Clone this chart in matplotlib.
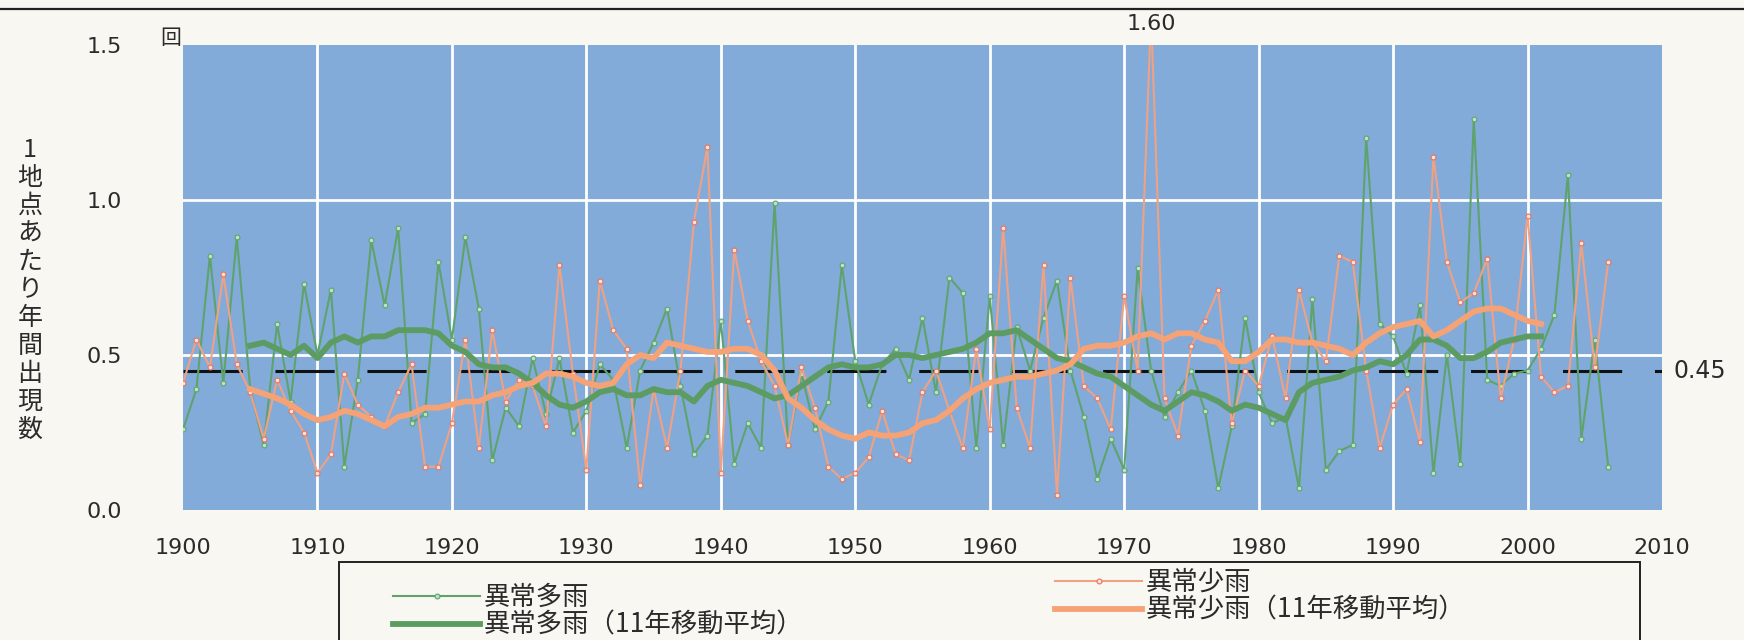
#!/usr/bin/env python3
# -*- coding: utf-8 -*-
"""
Annual occurrence of extreme heavy / light precipitation per station,
1900-2006, with 11-year running means and the 0.45 reference level.
Writes out.png (1744 x 640).
"""

import numpy as np
import matplotlib
matplotlib.use("Agg")
import matplotlib.pyplot as plt
from matplotlib.lines import Line2D
from matplotlib.patches import Rectangle

# ---------------------------------------------------------------------
# data
years = np.arange(1900, 2007)

heavy = [  # 異常多雨
    0.26, 0.39, 0.82, 0.41, 0.88, 0.39, 0.21, 0.60, 0.35, 0.73,
    0.50, 0.71, 0.14, 0.42, 0.87, 0.66, 0.91, 0.28, 0.31, 0.80,
    0.55, 0.88, 0.65, 0.16, 0.33, 0.27, 0.49, 0.31, 0.49, 0.25,
    0.32, 0.47, 0.42, 0.20, 0.45, 0.54, 0.65, 0.40, 0.18, 0.24,
    0.61, 0.15, 0.28, 0.20, 0.99, 0.21, 0.44, 0.26, 0.35, 0.79,
    0.48, 0.34, 0.47, 0.52, 0.42, 0.62, 0.38, 0.75, 0.70, 0.20,
    0.69, 0.21, 0.59, 0.45, 0.62, 0.74, 0.45, 0.30, 0.10, 0.23,
    0.13, 0.78, 0.45, 0.30, 0.38, 0.45, 0.32, 0.07, 0.27, 0.62,
    0.38, 0.28, 0.30, 0.07, 0.68, 0.13, 0.19, 0.21, 1.20, 0.60,
    0.56, 0.44, 0.66, 0.12, 0.50, 0.15, 1.26, 0.42, 0.40, 0.44,
    0.45, 0.52, 0.63, 1.08, 0.23, 0.55, 0.14,
]

light = [  # 異常少雨
    0.41, 0.55, 0.46, 0.76, 0.47, 0.38, 0.23, 0.42, 0.32, 0.25,
    0.12, 0.18, 0.44, 0.34, 0.30, 0.27, 0.38, 0.47, 0.14, 0.14,
    0.28, 0.55, 0.20, 0.58, 0.35, 0.42, 0.40, 0.27, 0.79, 0.44,
    0.13, 0.74, 0.58, 0.52, 0.08, 0.39, 0.20, 0.45, 0.93, 1.17,
    0.12, 0.84, 0.61, 0.48, 0.40, 0.21, 0.46, 0.33, 0.14, 0.10,
    0.12, 0.17, 0.32, 0.18, 0.16, 0.38, 0.45, 0.32, 0.20, 0.52,
    0.26, 0.91, 0.33, 0.20, 0.79, 0.05, 0.75, 0.40, 0.36, 0.26,
    0.69, 0.45, 1.60, 0.36, 0.24, 0.53, 0.61, 0.71, 0.28, 0.45,
    0.40, 0.56, 0.36, 0.71, 0.54, 0.48, 0.82, 0.80, 0.45, 0.20,
    0.34, 0.39, 0.22, 1.14, 0.80, 0.67, 0.70, 0.81, 0.36, 0.55,
    0.95, 0.43, 0.38, 0.40, 0.86, 0.46, 0.80,
]

ma_years = np.arange(1905, 2002)

heavy_ma = [  # 異常多雨(11年移動平均)
    0.53, 0.54, 0.52, 0.50, 0.53, 0.49, 0.54, 0.56, 0.54, 0.56,
    0.56, 0.58, 0.58, 0.58, 0.57, 0.53, 0.51, 0.47, 0.46, 0.46,
    0.44, 0.41, 0.37, 0.34, 0.33, 0.35, 0.38, 0.39, 0.37, 0.37,
    0.39, 0.38, 0.38, 0.35, 0.40, 0.42, 0.41, 0.40, 0.38, 0.36,
    0.37, 0.40, 0.43, 0.46, 0.47, 0.46, 0.46, 0.47, 0.50, 0.50,
    0.49, 0.50, 0.51, 0.52, 0.54, 0.57, 0.57, 0.58, 0.55, 0.52,
    0.49, 0.48, 0.46, 0.44, 0.43, 0.40, 0.37, 0.34, 0.32, 0.35,
    0.38, 0.37, 0.35, 0.32, 0.34, 0.33, 0.31, 0.29, 0.38, 0.41,
    0.42, 0.43, 0.45, 0.46, 0.48, 0.47, 0.50, 0.55, 0.55, 0.53,
    0.49, 0.49, 0.51, 0.54, 0.55, 0.56, 0.56,
]

light_ma = [  # 異常少雨(11年移動平均)
    0.39, 0.375, 0.36, 0.34, 0.31, 0.29, 0.30, 0.32, 0.31, 0.29,
    0.27, 0.30, 0.31, 0.33, 0.33, 0.34, 0.35, 0.35, 0.37, 0.38,
    0.40, 0.41, 0.44, 0.44, 0.43, 0.41, 0.40, 0.41, 0.47, 0.50,
    0.49, 0.54, 0.53, 0.52, 0.51, 0.51, 0.52, 0.52, 0.50, 0.45,
    0.36, 0.33, 0.29, 0.26, 0.24, 0.23, 0.25, 0.24, 0.24, 0.25,
    0.28, 0.29, 0.32, 0.36, 0.39, 0.41, 0.42, 0.43, 0.43, 0.44,
    0.45, 0.47, 0.52, 0.53, 0.53, 0.54, 0.56, 0.57, 0.55, 0.57,
    0.57, 0.55, 0.54, 0.48, 0.48, 0.51, 0.55, 0.55, 0.54, 0.54,
    0.53, 0.52, 0.50, 0.54, 0.57, 0.59, 0.60, 0.61, 0.56, 0.58,
    0.61, 0.64, 0.65, 0.65, 0.63, 0.61, 0.60,
]

REF_LEVEL = 0.45
X_TICKS = list(range(1900, 2011, 10))
Y_TICKS = [0.0, 0.5, 1.0, 1.5]
Y_LIM = (0.0, 1.5)
X_LIM = (1900, 2010)

LBL_HEAVY = "異常多雨"
LBL_LIGHT = "異常少雨"
LBL_HEAVY_MA = "異常多雨（11年移動平均）"
LBL_LIGHT_MA = "異常少雨（11年移動平均）"
Y_LABEL = "1地点あたり年間出現数"
UNIT = "回"

# ---------------------------------------------------------------------
# style
W_PX, H_PX, DPI = 1744, 640, 100
PAPER = "#f8f7f2"
PLOT_BG = "#82abd9"
GREEN = "#5fa36c"
GREEN_MA = "#5c9c62"
ORANGE = "#f0a184"
ORANGE_EDGE = "#e8735e"
ORANGE_MA = "#f5a277"
TXT = "#2b2b2b"
JP = ["Noto Sans CJK JP", "DejaVu Sans"]

plt.rcParams["font.family"] = ["DejaVu Sans", "Noto Sans CJK JP"]

fig = plt.figure(figsize=(W_PX / DPI, H_PX / DPI), dpi=DPI, facecolor=PAPER)

ax_l, ax_r, ax_t, ax_b = 183, 1662, 45, 510          # pixel box of the plot
ax = fig.add_axes([ax_l / W_PX, 1 - ax_b / H_PX,
                   (ax_r - ax_l) / W_PX, (ax_b - ax_t) / H_PX])
ax.set_facecolor(PLOT_BG)
ax.set_xlim(*X_LIM)
ax.set_ylim(*Y_LIM)
for s in ax.spines.values():
    s.set_visible(False)

# white grid
ax.set_xticks(X_TICKS)
ax.set_yticks(Y_TICKS)
for x in X_TICKS[1:-1]:
    ax.axvline(x, color="white", lw=2.0, zorder=1)
for y in Y_TICKS[1:-1]:
    ax.axhline(y, color="white", lw=2.0, zorder=1)

ax.tick_params(axis="both", length=0, labelsize=16, labelcolor=TXT)
ax.tick_params(axis="x", pad=20)
ax.tick_params(axis="y", pad=44)
ax.set_yticklabels([f"{v:.1f}" for v in Y_TICKS])

# dashed reference level (dash lengths given in years)
px_per_year = (ax_r - ax_l) / (X_LIM[1] - X_LIM[0])
ref_lw = 2.2
on_pt = 4.4 * px_per_year * 72 / DPI / ref_lw
off_pt = 2.44 * px_per_year * 72 / DPI / ref_lw
ax.axhline(REF_LEVEL, color="#111111", lw=ref_lw,
           linestyle=(0, (on_pt, off_pt)), zorder=2)
ax.text(1.008, REF_LEVEL, f"{REF_LEVEL:.2f}", transform=ax.get_yaxis_transform(),
        ha="left", va="center", fontsize=17, color=TXT)

# series
l_heavy, = ax.plot(years, heavy, color=GREEN, lw=1.5, marker="o", ms=3.5,
                   mfc="#bfe0c4", mec=GREEN, mew=0.8, zorder=3, label=LBL_HEAVY)
l_light, = ax.plot(years, light, color=ORANGE, lw=1.5, marker="o", ms=3.5,
                   mfc="#fde3d6", mec=ORANGE_EDGE, mew=0.8, zorder=3,
                   label=LBL_LIGHT)
l_heavy_ma, = ax.plot(ma_years, heavy_ma, color=GREEN_MA, lw=4.2,
                      solid_joinstyle="round", zorder=4, label=LBL_HEAVY_MA)
l_light_ma, = ax.plot(ma_years, light_ma, color=ORANGE_MA, lw=4.2,
                      solid_joinstyle="round", zorder=4, label=LBL_LIGHT_MA)

# value of the clipped spike
peak_i = int(np.argmax(light))
ax.text(years[peak_i], 1.045, f"{light[peak_i]:.2f}",
        transform=ax.get_xaxis_transform(), ha="center", va="center",
        fontsize=16, color=TXT)

# unit and vertical axis title
fig.text(171 / W_PX, 1 - 38 / H_PX, UNIT, family=JP, fontsize=15,
         ha="center", va="center", color=TXT)
fig.text(30 / W_PX, 1 - 290 / H_PX, "\n".join(Y_LABEL), family=JP,
         fontsize=18, linespacing=1.1, ha="center", va="center", color=TXT)

# rule across the top of the page
fig.add_artist(Line2D([0, 1], [1 - 9 / H_PX, 1 - 9 / H_PX],
                      transform=fig.transFigure, color="#222222", lw=1.6))

# legend: one framed box, two columns
fig.add_artist(Rectangle((339 / W_PX, -0.01), (1640 - 339) / W_PX,
                         1.01 - 562 / H_PX, transform=fig.transFigure,
                         facecolor="none", edgecolor="#222222", lw=1.4))
leg_kw = dict(frameon=False, handlelength=3.3, handletextpad=0.15,
              labelspacing=0.03, numpoints=1, prop={"family": JP, "size": 19},
              labelcolor=TXT, borderpad=0.0, borderaxespad=0.0)
leg_a = fig.legend([l_heavy, l_heavy_ma], [LBL_HEAVY, LBL_HEAVY_MA],
                   loc="upper left", bbox_to_anchor=(393 / W_PX, 1 - 584 / H_PX),
                   **leg_kw)
leg_b = fig.legend([l_light, l_light_ma], [LBL_LIGHT, LBL_LIGHT_MA],
                   loc="upper left", bbox_to_anchor=(1055 / W_PX, 1 - 569 / H_PX),
                   **leg_kw)

fig.savefig("out.png", dpi=DPI, facecolor=PAPER)
